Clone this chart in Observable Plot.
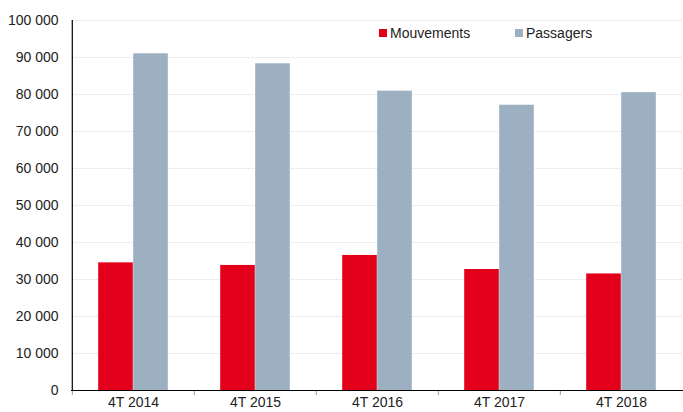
<!DOCTYPE html>
<html>
<head>
<meta charset="utf-8">
<script src="https://cdn.jsdelivr.net/npm/d3@7"></script>
<script src="https://cdn.jsdelivr.net/npm/@observablehq/plot@0.6"></script>
<style>
  html, body { margin: 0; padding: 0; background: #fff; }
  #wrap { position: relative; width: 683px; height: 412px; font-family: "Liberation Sans", Arial, sans-serif; }
  .legend { position: absolute; top: 25px; left: 0; font-size: 14px; color: #222; }
  .item { position: absolute; white-space: nowrap; display: flex; align-items: center; }
  .sw { width: 8px; height: 8px; margin-right: 3px; display: inline-block; }
</style>
</head>
<body>
<div id="wrap"></div>
<script>
const categories = ["4T 2014", "4T 2015", "4T 2016", "4T 2017", "4T 2018"];
const seriesNames = ["Mouvements", "Passagers"];
const mouvements = [34500, 33800, 36500, 32700, 31500];
const passagers = [91000, 88300, 80900, 77100, 80500];
const yTicks = [0, 10000, 20000, 30000, 40000, 50000, 60000, 70000, 80000, 90000, 100000];
const colors = ["#e2001a", "#9cb0c1"];

const W = 683, H = 412, mL = 71, mR = 0, mT = 20, mB = 22;
const step = (W - mL - mR) / categories.length;
const barW = 35;
const outer = step / 2 - barW;

const data = categories.map((c, i) => ({cat: c, mouv: mouvements[i], pass: passagers[i]}));
const fmt = d => d3.format(",")(d).replace(/,/g, " ");

const chart = Plot.plot({
  width: W, height: H,
  marginLeft: mL, marginRight: mR, marginTop: mT, marginBottom: mB,
  style: {fontFamily: '"Liberation Sans", Arial, sans-serif', fontSize: "14px", color: "#222", background: "#fff"},
  x: {domain: categories, padding: 0, label: null},
  y: {domain: [0, 100000], label: null},
  marks: [
    Plot.gridY(yTicks, {stroke: "#e8e8e8", strokeOpacity: 1, strokeDasharray: "3,1"}),
    Plot.barY(data, {x: "cat", y: "mouv", fill: colors[0], insetLeft: outer, insetRight: step / 2}),
    Plot.barY(data, {x: "cat", y: "pass", fill: colors[1], insetLeft: step / 2, insetRight: outer}),
    Plot.axisY(yTicks, {tickSize: 0, tickPadding: 13, tickFormat: fmt, fontSize: 14, fill: "#222"}),
    Plot.axisX({tickSize: 0, tickPadding: 7, fontSize: 14, fill: "#222"}),
    Plot.axisX({tickSize: 5, tickFormat: () => "", dx: -step / 2, stroke: "#999"}),
    Plot.ruleX([categories[0]], {x: d => d, dx: -step / 2, stroke: "#000", strokeWidth: 1.2}),
    Plot.ruleY([0], {stroke: "#000", strokeWidth: 1.2})
  ]
});
const wrap = document.getElementById("wrap");
wrap.appendChild(chart);

const legend = document.createElement("div");
legend.className = "legend";
const lx = [379, 515];
seriesNames.forEach((s, i) => {
  const it = document.createElement("div");
  it.className = "item";
  it.style.left = lx[i] + "px";
  const sw = document.createElement("span");
  sw.className = "sw";
  sw.style.background = colors[i];
  const t = document.createElement("span");
  t.textContent = s;
  it.appendChild(sw); it.appendChild(t);
  legend.appendChild(it);
});
wrap.appendChild(legend);
</script>
</body>
</html>
